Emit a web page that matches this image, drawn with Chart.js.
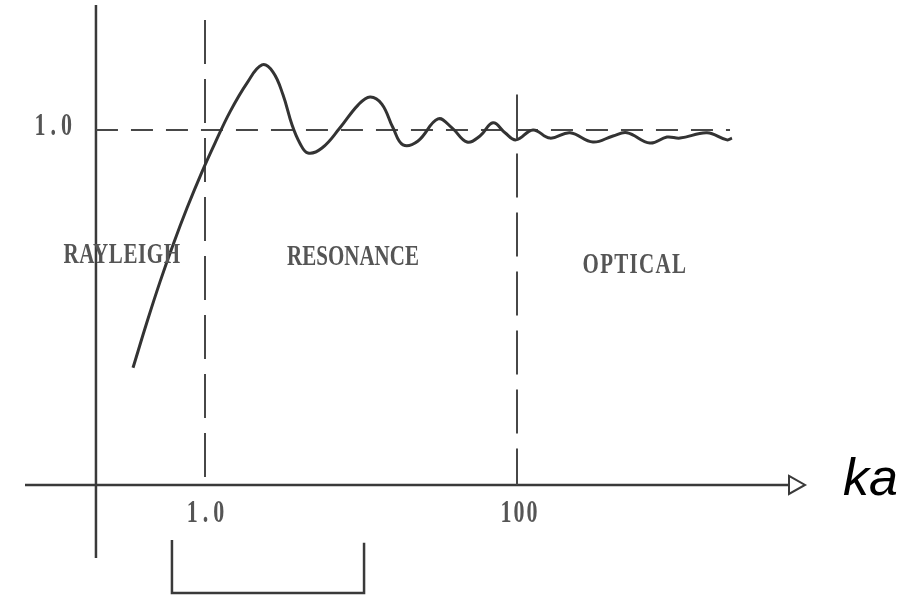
<!DOCTYPE html>
<html>
<head>
<meta charset="utf-8">
<script src="https://cdn.jsdelivr.net/npm/chart.js@4"></script>
<style>
  html, body { margin: 0; padding: 0; background: #fff; }
</style>
</head>
<body>
<canvas id="rcs" width="918" height="600"></canvas>
<script>
// normalised cross section against ka (log axis)
const kaValues = [0.3455, 0.4248, 0.5147, 0.6234, 0.7668, 0.9567, 1.159, 1.446, 1.858, 2.319,
    2.729, 3.162, 3.62, 4.064, 4.574, 5.623, 7.335, 9.567, 11.42, 13.6,
    16.04, 18.59, 23.2, 31.16, 38.31, 47.8, 57.9, 70.2, 83.8, 98.5,
    126.7, 162.8, 218.7, 307, 412.5, 507, 712, 915, 1109, 1652, 2219, 2388];
const sigmaValues = [0.33, 0.459, 0.572, 0.676, 0.78, 0.882, 0.963, 1.051, 1.132, 1.183,
    1.163, 1.099, 1.013, 0.962, 0.935, 0.949, 1.006, 1.07, 1.093, 1.073,
    1.006, 0.958, 0.969, 1.031, 1.006, 0.966, 0.983, 1.02, 0.992, 0.972,
    1.0, 0.977, 0.992, 0.966, 0.983, 0.992, 0.963, 0.98, 0.977, 0.992, 0.972, 0.977];

const xTicks = [1, 100];
const xTickLabels = ['1.0', '100'];
const yTicks = [1];
const yTickLabels = ['1.0'];

// region boundaries and names
const regionBounds = [1, 100];
const regionTops = [1.31, 1.1];
const regionNames = ['RAYLEIGH', 'RESONANCE', 'OPTICAL'];
const regionKa = [0.294, 8.89, 570];
const regionSigma = [0.648, 0.642, 0.62];

const bracketKa = [0.614, 10.46];
const refEndKa = 2320;

const ink = '#333';
const grey = '#555';

const typewriter = (ctx, text, x, y, align, size, stretch, spacing) => {
    ctx.save();
    ctx.translate(x, y);
    ctx.scale(1, stretch);
    ctx.font = `bold ${size}px "Liberation Serif", "Times New Roman", serif`;
    ctx.letterSpacing = (spacing || 0) + 'px';
    ctx.fillStyle = grey;
    ctx.textAlign = align;
    ctx.textBaseline = 'middle';
    ctx.fillText(text, 0, 0);
    ctx.restore();
};

// axes, arrow, labels and bracket drawn from the scales
const sketchPlugin = {
    id: 'sketch',
    beforeDatasetsDraw(chart) {
        const { ctx, scales: { x, y } } = chart;
        ctx.save();
        ctx.strokeStyle = '#3a3a3a';
        ctx.lineWidth = 2.5;
        ctx.lineCap = 'butt';

        const ax = x.getPixelForValue(0.2);
        ctx.beginPath();
        ctx.moveTo(ax, y.getPixelForValue(1.352));
        ctx.lineTo(ax, y.getPixelForValue(-0.206));
        ctx.stroke();

        const y0 = y.getPixelForValue(0);
        const tip = x.getPixelForValue(x.max);
        const base = tip - 16;
        ctx.beginPath();
        ctx.moveTo(x.getPixelForValue(x.min), y0);
        ctx.lineTo(base, y0);
        ctx.stroke();
        ctx.lineWidth = 2;
        ctx.beginPath();
        ctx.moveTo(base, y0 - 9);
        ctx.lineTo(tip, y0);
        ctx.lineTo(base, y0 + 9);
        ctx.closePath();
        ctx.stroke();

        // bracket under the resonance range
        ctx.lineWidth = 2.5;
        ctx.beginPath();
        ctx.moveTo(x.getPixelForValue(bracketKa[0]), y.getPixelForValue(-0.155));
        ctx.lineTo(x.getPixelForValue(bracketKa[0]), y.getPixelForValue(-0.304));
        ctx.lineTo(x.getPixelForValue(bracketKa[1]), y.getPixelForValue(-0.304));
        ctx.lineTo(x.getPixelForValue(bracketKa[1]), y.getPixelForValue(-0.163));
        ctx.stroke();
        ctx.restore();
    },
    afterDatasetsDraw(chart) {
        const { ctx, scales: { x, y } } = chart;
        yTicks.forEach((v, i) => {
            typewriter(ctx, yTickLabels[i], x.getPixelForValue(0.2) - 19, y.getPixelForValue(v) - 3, 'right', 22, 1.45, 5);
        });
        xTicks.forEach((v, i) => {
            typewriter(ctx, xTickLabels[i], x.getPixelForValue(v) + 3, y.getPixelForValue(0) + 29, 'center', 22, 1.45, i ? 2 : 5);
        });
        const spacing = [0.6, 0, 1.3];
        regionNames.forEach((name, i) => {
            typewriter(ctx, name, x.getPixelForValue(regionKa[i]), y.getPixelForValue(regionSigma[i]), 'center', 21, 1.45, spacing[i]);
        });

        ctx.save();
        ctx.font = 'italic 52px "Liberation Sans", Arial, sans-serif';
        ctx.fillStyle = '#000';
        ctx.textAlign = 'left';
        ctx.textBaseline = 'alphabetic';
        ctx.fillText('ka', x.getPixelForValue(x.max) + 38, y.getPixelForValue(0) + 10);
        ctx.restore();
    }
};

const dashed = (points, dash) => ({
    data: points,
    borderColor: '#474747',
    borderWidth: 2,
    borderDash: dash,
    pointRadius: 0,
    tension: 0
});

new Chart(document.getElementById('rcs'), {
    type: 'line',
    data: {
        datasets: [
            {
                data: kaValues.map((k, i) => ({ x: k, y: sigmaValues[i] })),
                borderColor: ink,
                borderWidth: 3,
                pointRadius: 0,
                tension: 0.4
            },
            dashed([{ x: 0.2, y: 1 }, { x: refEndKa, y: 1 }], [22, 13]),
            dashed([{ x: regionBounds[0], y: regionTops[0] }, { x: regionBounds[0], y: 0 }], [44, 15]),
            dashed([{ x: regionBounds[1], y: regionTops[1] }, { x: regionBounds[1], y: 0 }], [44, 15])
        ]
    },
    options: {
        responsive: false,
        animation: false,
        devicePixelRatio: 1,
        layout: { padding: { left: 25, right: 113, top: 0, bottom: 0 } },
        plugins: { legend: { display: false }, tooltip: { enabled: false } },
        scales: {
            x: { type: 'logarithmic', min: 0.07017, max: 7017, display: false },
            y: { type: 'linear', min: -0.324, max: 1.366, display: false }
        }
    },
    plugins: [sketchPlugin]
});
</script>
</body>
</html>
